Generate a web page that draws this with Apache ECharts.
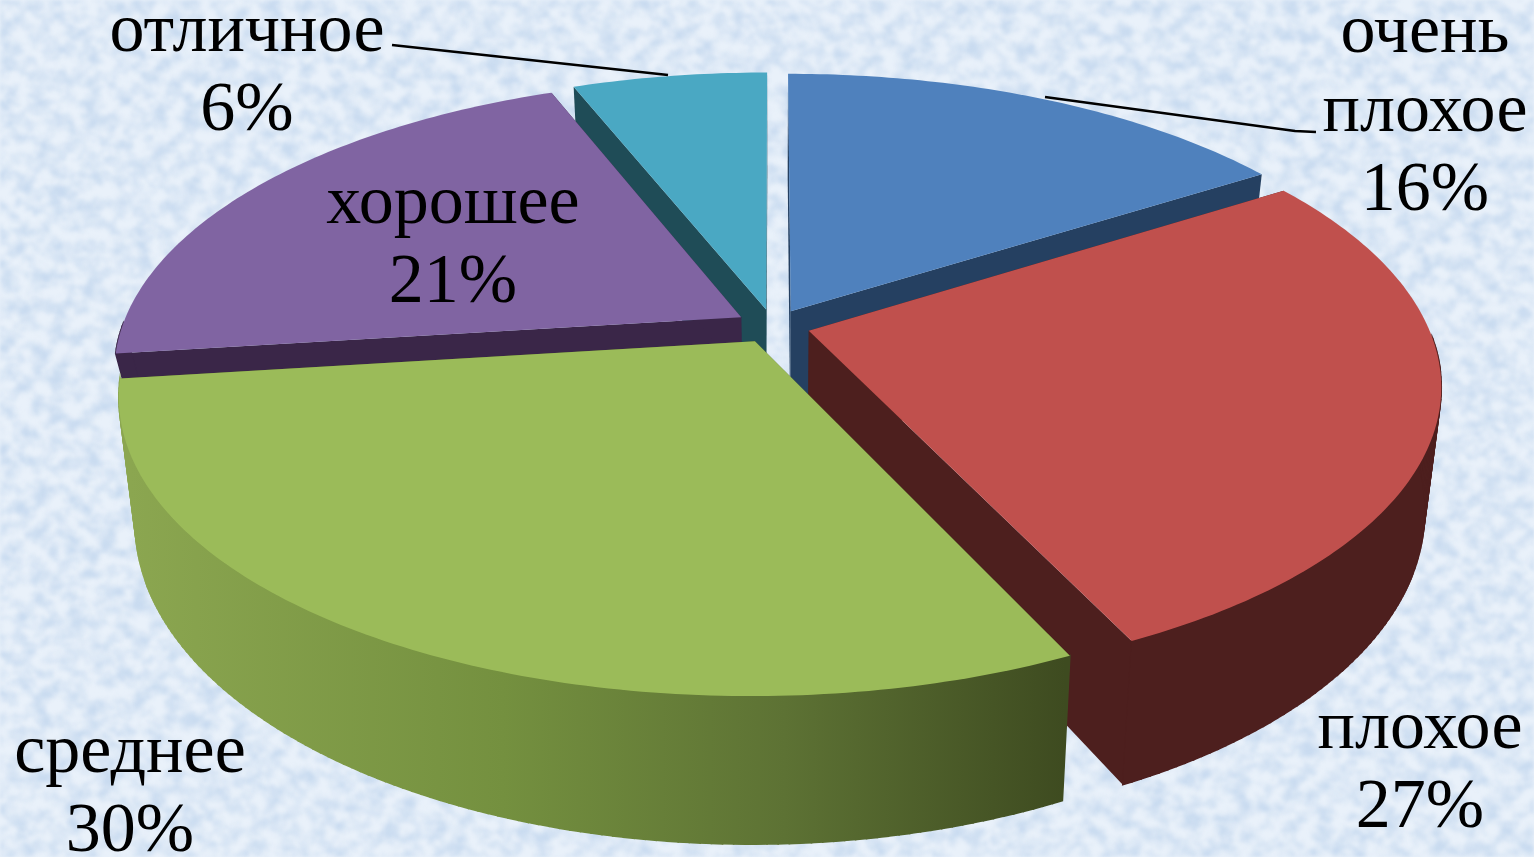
<!DOCTYPE html>
<html><head><meta charset="utf-8">
<script src="https://cdn.jsdelivr.net/npm/echarts@6/dist/echarts.min.js"></script>
<style>
html,body{margin:0;padding:0;width:1534px;height:857px;overflow:hidden;background-color:#dce9f6;}
#bg{position:absolute;left:0;top:0;}
#c{position:absolute;left:0;top:0;width:1534px;height:857px;}
</style></head><body>
<svg id="bg" width="1534" height="857" xmlns="http://www.w3.org/2000/svg">
<defs><filter id="tex" x="0" y="0" width="100%" height="100%" color-interpolation-filters="sRGB">
<feTurbulence type="fractalNoise" baseFrequency="0.06 0.07" numOctaves="4" seed="7"/>
<feColorMatrix type="matrix" values="0 0 0 0 0.79  0 0 0 0 0.86  0 0 0 0 0.94  2.4 0 0 0 -0.85"/>
<feGaussianBlur stdDeviation="1.5"/>
</filter></defs>
<rect width="1534" height="857" fill="#e9f1fa"/>
<rect width="1534" height="857" fill="#000" filter="url(#tex)"/>
</svg>
<div id="c"></div>
<script>
// data
var categories = ['очень\nплохое', 'плохое', 'среднее', 'хорошее', 'отличное'];
var values = [16, 27, 30, 21, 6];

// styles
var topColors = ['#4f81bd', '#c0504d', '#9bbb59', '#8064a2', '#4aa8c3'];
var sideColors = ['#254061', '#4d1f1e', '#4f6029', '#3a2648', '#1f4c57'];
var depthScale = [1, 1, 1, 0.5, 1];
var greenWall = [[0, '#8ba650'], [0.4, '#74903f'], [0.7, '#5d7234'], [1, '#3e4b20']];
var drawOrder = [4, 3, 0, 1, 2];
var labelPos = [[1425, 113], [1420, 769], [130, 793], [453, 244], [247, 72]];
var leaders = [
  [[1045, 97], [1295, 131], [1316, 132]],
  [[392, 45], [668, 75]]
];
var FONT = '70px "Liberation Serif"';
var LINE = 79;

// tilted-disc projection
var cx = 773, cy = 326, R = 619, B = 285, k = 0.18, EXPLODE = 0.06, DEPTH = 120, SHRINK = 0.975;
function top3d(u, v) {
  var s = 1 / (1 - k * v);
  return [cx + R * u * s, cy + B * v * s, s];
}
function topPt(u, v) { var p = top3d(u, v); return [p[0], p[1]]; }
function botPt(u, v, f) {
  var p = top3d(u, v);
  return [cx + (p[0] - cx) * SHRINK, p[1] + DEPTH * f * p[2]];
}

var total = values.reduce(function (a, b) { return a + b; }, 0);
var slices = [], acc = 0;
values.forEach(function (val, i) {
  var a0 = acc / total * 2 * Math.PI;
  acc += val;
  var a1 = acc / total * 2 * Math.PI;
  var m = (a0 + a1) / 2;
  slices.push({ a0: a0, a1: a1, ox: EXPLODE * Math.sin(m), oy: -EXPLODE * Math.cos(m) });
});

// rim points of a slice; frontOnly keeps the part of the rim that faces the viewer
function arc(sl, fn, f, frontOnly) {
  var pts = [], n = Math.max(4, Math.round((sl.a1 - sl.a0) / 0.015));
  for (var j = 0; j <= n; j++) {
    var a = sl.a0 + (sl.a1 - sl.a0) * j / n;
    if (frontOnly && -Math.cos(a) < 0.02) continue;
    pts.push(fn(sl.ox + Math.sin(a), sl.oy - Math.cos(a), f));
  }
  return pts;
}
function poly(points, fill, stroke, z, lw) {
  return { type: 'polygon', shape: { points: points }, style: { fill: fill, stroke: stroke, lineWidth: lw || 0 }, z2: z };
}

function renderSlice(params) {
  var i = params.dataIndex, sl = slices[i], f = depthScale[i];
  var T = arc(sl, topPt), Bt = arc(sl, botPt, f);
  var aT = topPt(sl.ox, sl.oy), aB = botPt(sl.ox, sl.oy, f);
  var side = sideColors[i];
  var wallFill = i === 2
    ? { type: 'linear', global: true, x: 130, y: 0, x2: 1065, y2: 0, colorStops: greenWall.map(function (c) { return { offset: c[0], color: c[1] }; }) }
    : side;
  var n = T.length - 1;
  var children = [
    poly([aT, T[0], Bt[0], aB], side, null, 1),
    poly([aT, T[n], Bt[n], aB], side, null, 1)
  ];
  var FT = arc(sl, topPt, 1, true), FB = arc(sl, botPt, f, true);
  for (var j = 0; j < FT.length - 1; j++) {
    children.push(poly([FT[j], FT[j + 1], FB[j + 1], FB[j]], wallFill, wallFill, 2, 1.6));
  }
  if (FT.length > 1) {
    children.push(poly(FT.concat(FB.slice().reverse()), wallFill, null, 3));
  }
  children.push(poly([aT].concat(T), topColors[i], null, 4));
  return { type: 'group', children: children };
}

function renderLabel(params) {
  var i = params.dataIndex;
  return {
    type: 'text',
    style: {
      text: categories[i] + '\n' + values[i] + '%',
      x: labelPos[i][0], y: labelPos[i][1],
      font: FONT, lineHeight: LINE, fill: '#000',
      textAlign: 'center', textVerticalAlign: 'middle'
    },
    z2: 20
  };
}

function renderLeader(params) {
  return {
    type: 'polyline',
    shape: { points: leaders[params.dataIndex] },
    style: { stroke: '#000', lineWidth: 2.5, fill: null },
    z2: 19
  };
}

var chart = echarts.init(document.getElementById('c'), null, { renderer: 'canvas', width: 1534, height: 857 });
chart.setOption({
  animation: false,
  backgroundColor: 'transparent',
  series: drawOrder.map(function (idx, n) {
    return {
      type: 'custom', coordinateSystem: 'none', silent: true, z: n + 1,
      renderItem: function () { return renderSlice({ dataIndex: idx }); },
      data: [values[idx]]
    };
  }).concat([
    { type: 'custom', coordinateSystem: 'none', silent: true, z: 10, renderItem: renderLeader, data: leaders.map(function (l, i) { return i; }) },
    { type: 'custom', coordinateSystem: 'none', silent: true, z: 11, renderItem: renderLabel, data: values.slice() }
  ])
});
</script>
</body></html>
